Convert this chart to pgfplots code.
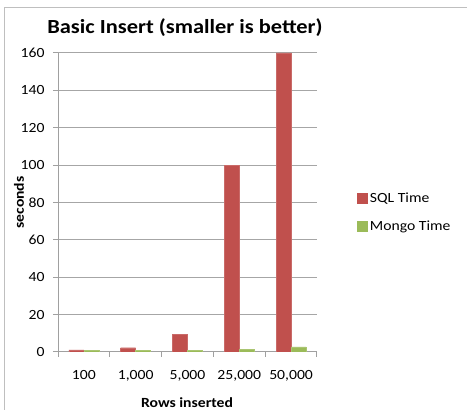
\documentclass[border=0pt]{standalone}
\usepackage{pgfplots}
\pgfplotsset{compat=1.18}
\usepackage{fontspec}
\setmainfont{Carlito}[FakeStretch=1.12]
\definecolor{sqlred}{HTML}{C0504D}
\definecolor{mongogreen}{HTML}{9BBB59}
\definecolor{gridgray}{HTML}{A6A6A6}
\definecolor{axisgray}{HTML}{A0A0A0}
\definecolor{framegray}{HTML}{BFBFBF}
\begin{document}
\begin{tikzpicture}[x=1pt,y=1pt]
\path[use as bounding box] (0,0) rectangle (467,410);
\draw[framegray, line width=1pt] (4.5,-2) -- (4.5,402) -- (469,402);
\node[font=\fontsize{20}{24}\selectfont\bfseries, anchor=base] at (185,376) {Basic Insert (smaller is better)};
\begin{axis}[
  at={(58pt,58pt)}, anchor=south west,
  scale only axis, width=259pt, height=299pt,
  ybar=0pt, bar width=15pt,
  xmin=-0.5, xmax=4.5, ymin=0, ymax=160,
  axis x line*=bottom, axis y line*=left,
  axis line style={axisgray, line width=1pt, -},
  xtick={-0.5,0.5,1.5,2.5,3.5,4.5}, xticklabels={},
  extra x ticks={0,1,2,3,4},
  extra x tick labels={100,{1,000},{5,000},{25,000},{50,000}},
  extra x tick style={major tick length=0pt, grid=none,
     xticklabel style={yshift=-15pt}},
  ytick={0,20,...,160},
  ymajorgrids, grid style={gridgray, line width=1pt},
  tick style={axisgray, line width=1pt},
  tick align=outside, major tick length=5pt,
  ticklabel style={font=\fontsize{14}{16}\selectfont, text=black},
  yticklabel style={xshift=-5pt},
  /pgf/number format/assume math mode=true,
  xlabel={Rows inserted}, ylabel={seconds},
  label style={font=\fontsize{14}{16}\selectfont\bfseries},
  xlabel style={at={(axis description cs:0.498,-0.184)}, anchor=base},
  ylabel style={at={(axis description cs:-0.1506,0.5)}, anchor=center},
  legend style={at={(axis description cs:1.154,0.468)}, anchor=west,
     draw=none, fill=none, inner sep=0pt, row sep=12pt,
     font=\fontsize{14}{16}\selectfont, nodes={inner sep=2.5pt}},
  legend cell align=left,
]
\addplot[fill=sqlred, draw=sqlred!85!white,
  legend image code/.code={\fill[sqlred] (0pt,-5pt) rectangle (10pt,5pt);}]
  coordinates {(0,1.1) (1,2.3) (2,9.3) (3,100) (4,160)};
\addlegendentry{SQL Time}
\addplot[fill=mongogreen, draw=mongogreen!85!white,
  legend image code/.code={\fill[mongogreen] (0pt,-5pt) rectangle (10pt,5pt);}]
  coordinates {(0,0.9) (1,0.9) (2,0.8) (3,1.6) (4,2.8)};
\addlegendentry{Mongo Time}
\end{axis}
\end{tikzpicture}
\end{document}
